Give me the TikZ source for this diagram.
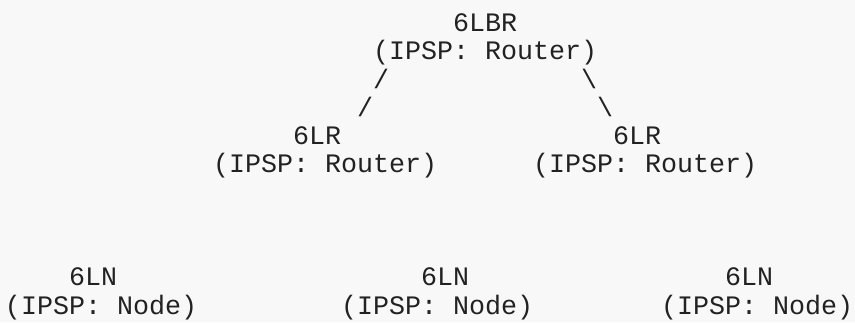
\documentclass[tikz,border=0pt]{standalone}
\usepackage{fontspec}
\newfontfamily\monof{Liberation Mono}
\definecolor{bg}{HTML}{F8F8F8}
\definecolor{ink}{HTML}{222222}
\begin{document}
\begin{tikzpicture}[x=1pt,y=-1pt,
  asc/.style={font=\monof\fontsize{26.67}{32}\selectfont, text=ink, anchor=base west, inner sep=0pt, outer sep=0pt}]
\fill[bg] (0,0) rectangle (855,322);
\useasboundingbox (0,0) rectangle (855,322);
\def\xo{5}
\def\yo{31.7}
\def\dy{28.25}
% root
\node[asc] (lbr)  at ({\xo+16*28},{\yo+\dy*0}) {6LBR};
\node[asc] (lbrr) at ({\xo+16*23},{\yo+\dy*1}) {(IPSP: Router)};
% links
\node[asc] (l1) at ({\xo+16*23},{\yo+\dy*2}) {/};
\node[asc] (r1) at ({\xo+16*36},{\yo+\dy*2}) {\textbackslash};
\node[asc] (l2) at ({\xo+16*22},{\yo+\dy*3}) {/};
\node[asc] (r2) at ({\xo+16*37},{\yo+\dy*3}) {\textbackslash};
% routers
\node[asc] (lr1)  at ({\xo+16*18},{\yo+\dy*4}) {6LR};
\node[asc] (lr2)  at ({\xo+16*38},{\yo+\dy*4}) {6LR};
\node[asc] (lr1r) at ({\xo+16*13},{\yo+\dy*5}) {(IPSP: Router)};
\node[asc] (lr2r) at ({\xo+16*33},{\yo+\dy*5}) {(IPSP: Router)};
% nodes
\node[asc] (ln1)  at ({\xo+16*4},{\yo+\dy*9}) {6LN};
\node[asc] (ln2)  at ({\xo+16*26},{\yo+\dy*9}) {6LN};
\node[asc] (ln3)  at ({\xo+16*45},{\yo+\dy*9}) {6LN};
\node[asc] (ln1r) at ({\xo+16*0},{\yo+\dy*10}) {(IPSP: Node)};
\node[asc] (ln2r) at ({\xo+16*21},{\yo+\dy*10}) {(IPSP: Node)};
\node[asc] (ln3r) at ({\xo+16*41},{\yo+\dy*10}) {(IPSP: Node)};
\end{tikzpicture}
\end{document}
